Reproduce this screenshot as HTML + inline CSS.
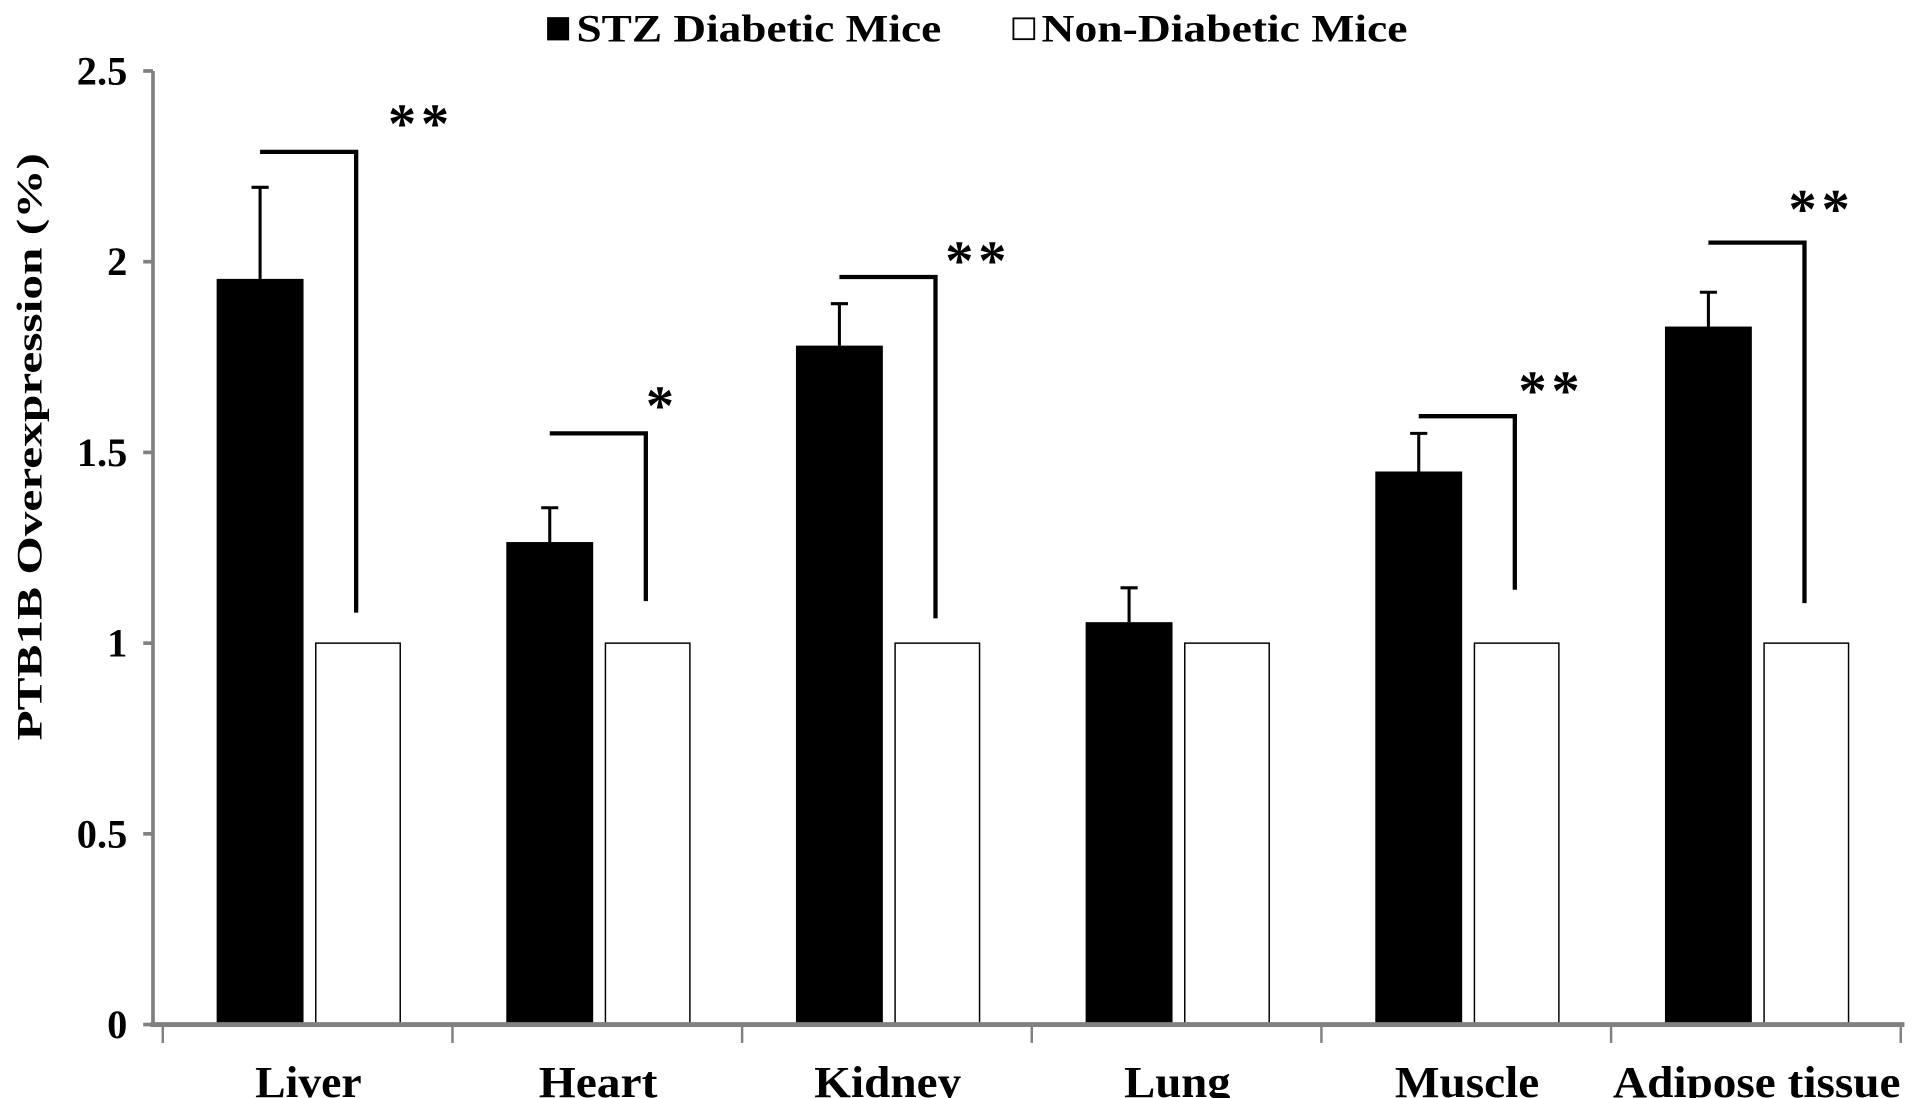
<!DOCTYPE html>
<html><head><meta charset="utf-8"><style>
html,body{margin:0;padding:0;background:#fff;}
svg{display:block;font-family:"Liberation Serif",serif;font-weight:bold;}
</style></head><body>
<svg id="chart" width="1913" height="1098" viewBox="0 0 1563 897" preserveAspectRatio="none" xmlns="http://www.w3.org/2000/svg">
<g>
<rect x="447" y="14" width="18" height="19" fill="#000"/>
<text x="471" y="34" font-size="32" textLength="298" lengthAdjust="spacingAndGlyphs">STZ Diabetic Mice</text>
<rect x="828" y="15" width="17" height="17" fill="#fff" stroke="#000" stroke-width="1.5"/>
<text x="851" y="34" font-size="32" textLength="299" lengthAdjust="spacingAndGlyphs">Non-Diabetic Mice</text>
</g>
<text transform="translate(34,365) rotate(-90)" text-anchor="middle" font-size="29" textLength="480" lengthAdjust="spacingAndGlyphs">PTB1B  Overexpression (%)</text>
<g id="plot"></g>
</svg>
<script>
const categories = ["Liver","Heart","Kidney","Lung","Muscle","Adipose tissue"];
const stzValues = [1.955,1.265,1.78,1.055,1.45,1.83];
const stzErrors = [0.24,0.09,0.11,0.09,0.10,0.09];
const nonValues = [1,1,1,1,1,1];
const yTicks = [0,0.5,1,1.5,2,2.5];
const yTickLabels = ["0","0.5","1","1.5","2","2.5"];
const sigBracketTop = [2.288,1.55,1.96,null,1.595,2.05];
const sigBracketBottom = [1.08,1.11,1.065,null,1.14,1.105];
const sigLabels = ["**","*","**","","**","**"];
const sigLabelY = [2.39,1.65,2.03,null,1.69,2.165];
const catLabelWidths = [87,97,120,87,118,235];
const sigLabelShift = [26,0,8,0,3,-13];

const NS="http://www.w3.org/2000/svg";
const g=document.getElementById('plot');
const y0=837, yTop=58, yMax=2.5;
const X0=133, catW=(1553-133)/6;
const y=v=>y0-(v/yMax)*(y0-yTop);
const catX=i=>X0+i*catW;
function mk(tag,attrs,parent){const e=document.createElementNS(NS,tag);for(const k in attrs)e.setAttribute(k,attrs[k]);(parent||g).appendChild(e);return e;}

let ax=mk('line',{x1:125,y1:yTop,x2:125,y2:y0+2,stroke:'#808080','stroke-width':3});


yTicks.forEach((t,i)=>{
  const tk=mk('line',{x1:117,y1:y(t),x2:125,y2:y(t),stroke:'#808080','stroke-width':3});
  
  
  const tl=mk('text',{x:104,y:y(t)+11,'text-anchor':'end','font-size':33});
  tl.textContent=yTickLabels[i];
  
  
});
categories.forEach((c,i)=>{
  const cx=catX(i);
  const bx=cx+44, wx=cx+125;
  const b=mk('rect',{x:bx,y:y(stzValues[i]),width:71,height:y0-y(stzValues[i]),fill:'#000'});
  
  
  const w=mk('rect',{x:wx,y:y(nonValues[i]),width:69,height:y0-y(nonValues[i]),fill:'#fff',stroke:'#000','stroke-width':1.2});
  
  
  const ec=bx+35.5, et=y(stzValues[i]+stzErrors[i]);
  const e1=mk('line',{x1:ec,y1:et,x2:ec,y2:y(stzValues[i]),stroke:'#000','stroke-width':2.5});
  
  
  const e2=mk('line',{x1:ec-7,y1:et,x2:ec+7,y2:et,stroke:'#000','stroke-width':2.5});
  
  
  if(sigBracketTop[i]!==null){
    const wc=wx+33;
    const br=mk('polyline',{points:`${ec},${y(sigBracketTop[i])} ${wc},${y(sigBracketTop[i])} ${wc},${y(sigBracketBottom[i])}`,fill:'none',stroke:'#000','stroke-width':3.5});
    
    
    const st=mk('text',{x:wc+sigLabelShift[i],y:y(sigLabelY[i])+24,'font-size':46,'letter-spacing':4});
    st.textContent=sigLabels[i];
    
    
  }
  const lab=mk('text',{x:cx+119-catLabelWidths[i]/2,y:896,'font-size':36,textLength:catLabelWidths[i],lengthAdjust:'spacingAndGlyphs'});
  lab.textContent=c;
  
  
});
let xa=mk('line',{x1:123,y1:y0,x2:1556,y2:y0,stroke:'#808080','stroke-width':4});


for(let i=0;i<=6;i++){
  const tx=catX(i);
  const t=mk('line',{x1:tx,y1:y0,x2:tx,y2:y0+15,stroke:'#808080','stroke-width':2});
  
  
}
</script>
</body></html>
